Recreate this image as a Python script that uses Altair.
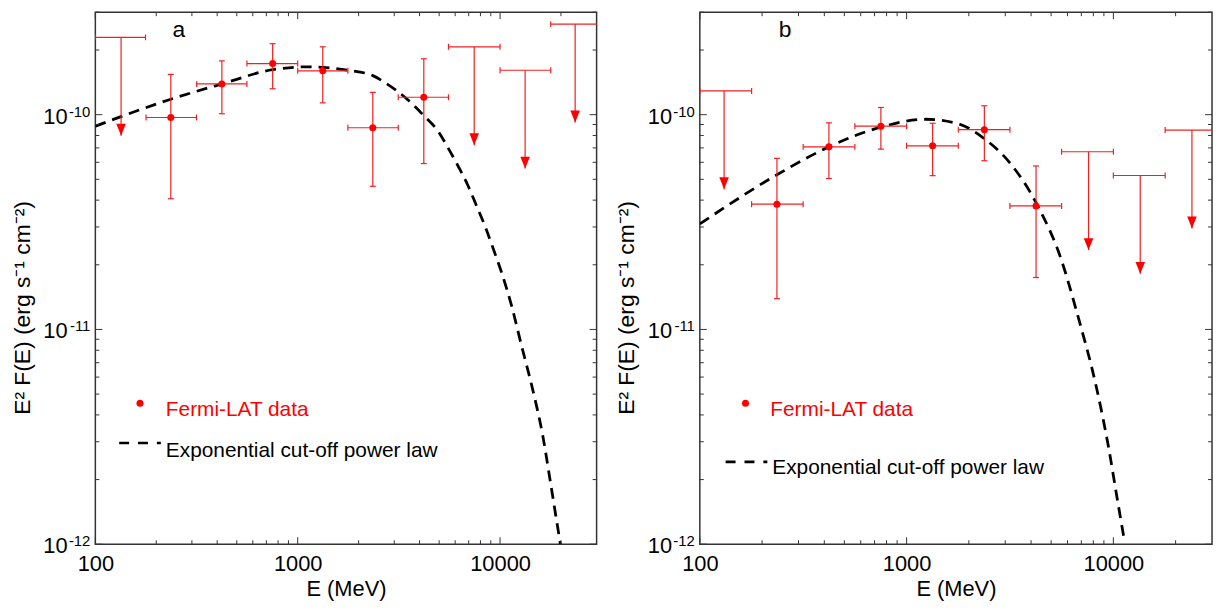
import altair as alt
import pandas as pd

# ---------------- data ----------------
# Panel a : detected points
a_E = [236, 422, 752, 1330, 2350, 4200]
a_F = [9.7e-11, 1.39e-10, 1.73e-10, 1.60e-10, 8.69e-11, 1.205e-10]
a_Elo = [178, 317, 561, 1000, 1770, 3140]
a_Ehi = [316, 561, 1000, 1770, 3140, 5560]
a_Flo = [4.06e-11, 1.01e-10, 1.32e-10, 1.135e-10, 4.64e-11, 5.92e-11]
a_Fhi = [1.54e-10, 1.78e-10, 2.14e-10, 2.07e-10, 1.27e-10, 1.82e-10]
# Panel a : upper limits
a_ulE = [134, 7450, 13300, 23500]
a_ulLo = [100, 5560, 10000, 17800]
a_ulHi = [177, 10000, 17800, 31600]
a_ulV = [2.29e-10, 2.07e-10, 1.61e-10, 2.64e-10]
# Panel a : exponential cut-off power law curve
a_cE = [100, 236, 422, 752, 1140, 1330, 1770, 2350, 2667, 3475, 4198, 4970,
        5560, 6222, 6966, 7654, 8409, 9247, 10140, 11350, 12710, 14520, 16260,
        17840, 19580, 19870]
a_cF = [8.84e-11, 1.18e-10, 1.39e-10, 1.62e-10, 1.67e-10, 1.66e-10, 1.61e-10,
        1.52e-10, 1.42e-10, 1.18e-10, 9.9e-11, 8.3e-11, 6.95e-11, 5.73e-11,
        4.64e-11, 3.76e-11, 3.04e-11, 2.38e-11, 1.86e-11, 1.31e-11, 8.55e-12,
        5.22e-12, 3.2e-12, 1.88e-12, 1.09e-12, 1.0e-12]

# Panel b : detected points
b_E = [236, 421, 751, 1336, 2377, 4227]
b_F = [3.83e-11, 7.08e-11, 8.84e-11, 7.16e-11, 8.51e-11, 3.76e-11]
b_Elo = [178, 316, 562, 1000, 1778, 3160]
b_Ehi = [316, 562, 1000, 1778, 3160, 5620]
b_Flo = [1.39e-11, 5.04e-11, 6.91e-11, 5.2e-11, 6.1e-11, 1.745e-11]
b_Fhi = [6.26e-11, 9.16e-11, 1.08e-10, 9.12e-11, 1.10e-10, 5.77e-11]
# Panel b : upper limits
b_ulE = [131, 7585, 13490, 23990]
b_ulLo = [100, 5620, 10000, 17800]
b_ulHi = [178, 10000, 17800, 31600]
b_ulV = [1.29e-10, 6.72e-11, 5.21e-11, 8.48e-11]
# Panel b : curve
b_cE = [100, 236, 421, 751, 1240, 1780, 2377, 3170, 4227, 5640, 6600, 7020,
        7820, 8710, 9490, 10350, 11290]
b_cF = [3.1e-11, 5.25e-11, 7.08e-11, 8.75e-11, 9.52e-11, 9.06e-11, 7.73e-11,
        5.94e-11, 3.89e-11, 2.07e-11, 1.24e-11, 1.0e-11, 6.79e-12, 4.29e-12,
        2.81e-12, 1.71e-12, 1.05e-12]

# axis tick values
x_major = [100, 1000, 10000]
x_minor = [200, 300, 400, 500, 600, 700, 800, 900,
           2000, 3000, 4000, 5000, 6000, 7000, 8000, 9000, 20000]
y_major = [1e-12, 1e-11, 1e-10]
y_minor = [2e-12, 3e-12, 4e-12, 5e-12, 6e-12, 7e-12, 8e-12, 9e-12,
           2e-11, 3e-11, 4e-11, 5e-11, 6e-11, 7e-11, 8e-11, 9e-11,
           2e-10, 3e-10]
y_sup = ["-12", "-11", "-10"]
y_title = "E² F(E) (erg s⁻¹ cm⁻²)"
x_title = "E (MeV)"

# ---------------- styling ----------------
RED = "#ff0000"
BAR = "#f02020"
FRAME = "#333333"
FONT = "Liberation Sans"
H = 536
XDOM = [100, 30000]
YDOM = [1e-12, 3e-10]
ARROW = 2.87  # arrow length factor (fixed pixel length on log axis)
VCAP = "M0,-1L0,1"
HCAP = "M-1,0L1,0"
TRI = "M-0.4,-1L0.4,-1L0,0Z"


def panel(E, F, Elo, Ehi, Flo, Fhi, ulE, ulLo, ulHi, ulV, cE, cF, W, label, leg):
    xs = alt.Scale(type="log", domain=XDOM, nice=False)
    ys = alt.Scale(type="log", domain=YDOM, nice=False)
    xax = alt.Axis(values=x_major, format="d", ticks=False, domain=False, grid=False,
                   labelFontSize=22, labelPadding=9, labelFlush=False, labelOverlap=False,
                   title=x_title, titleFontSize=22, titlePadding=5,
                   titleFontWeight="normal", labelColor="black", titleColor="black")
    yax = alt.Axis(labels=False, ticks=False, domain=False, grid=False, title=None)

    def X(f):
        return alt.X(f, type="quantitative", scale=xs, axis=xax)

    def Y(f):
        return alt.Y(f, type="quantitative", scale=ys, axis=yax)

    pts = pd.DataFrame(dict(E=E, F=F, lo=Elo, hi=Ehi, flo=Flo, fhi=Fhi))
    ul = pd.DataFrame(dict(E=ulE, lo=ulLo, hi=ulHi, v=ulV,
                           tip=[v / ARROW for v in ulV]))
    cur = pd.DataFrame(dict(E=cE, F=cF))

    layers = []
    layers.append(alt.Chart(cur).mark_line(color="black", strokeWidth=2.8,
                                           strokeDash=[11, 7], interpolate="monotone",
                                           clip=True).encode(x=X("E"), y=Y("F")))
    layers.append(alt.Chart(pts).mark_rule(color=BAR, strokeWidth=1.2)
                  .encode(x=X("lo"), x2="hi", y=Y("F")))
    layers.append(alt.Chart(pts).mark_rule(color=BAR, strokeWidth=1.2)
                  .encode(x=X("E"), y=Y("flo"), y2="fhi"))
    layers.append(alt.Chart(pts).transform_fold(["lo", "hi"], as_=["k", "xc"])
                  .mark_point(shape=VCAP, size=36, stroke=BAR, strokeWidth=1.2,
                              filled=False, opacity=1)
                  .encode(x=X("xc:Q"), y=Y("F")))
    layers.append(alt.Chart(pts).transform_fold(["flo", "fhi"], as_=["k", "yc"])
                  .mark_point(shape=HCAP, size=36, stroke=BAR, strokeWidth=1.2,
                              filled=False, opacity=1)
                  .encode(x=X("E"), y=Y("yc:Q")))
    layers.append(alt.Chart(pts).mark_point(filled=True, size=50, color=RED, opacity=1)
                  .encode(x=X("E"), y=Y("F")))
    layers.append(alt.Chart(ul).mark_rule(color=BAR, strokeWidth=1.2, clip=True)
                  .encode(x=X("lo"), x2="hi", y=Y("v")))
    layers.append(alt.Chart(ul).transform_fold(["lo", "hi"], as_=["k", "xc"])
                  .mark_point(shape=VCAP, size=36, stroke=BAR, strokeWidth=1.2,
                              filled=False, opacity=1, clip=True)
                  .encode(x=X("xc:Q"), y=Y("v")))
    layers.append(alt.Chart(ul).mark_rule(color=BAR, strokeWidth=1.2)
                  .encode(x=X("E"), y=Y("v"), y2="tip"))
    layers.append(alt.Chart(ul).mark_point(shape=TRI, size=576, filled=True, color=RED,
                                           opacity=1, strokeWidth=0)
                  .encode(x=X("E"), y=Y("tip")))

    # inward ticks on all four sides
    for vals, ln in ((x_major, 7), (x_minor, 4)):
        d = pd.DataFrame({"t": vals})
        layers.append(alt.Chart(d).mark_rule(color=FRAME, strokeWidth=1)
                      .encode(x=X("t"), y=alt.value(H), y2=alt.value(H - ln)))
        layers.append(alt.Chart(d).mark_rule(color=FRAME, strokeWidth=1)
                      .encode(x=X("t"), y=alt.value(0), y2=alt.value(ln)))
    for vals, ln in ((y_major, 7), (y_minor, 4)):
        d = pd.DataFrame({"t": vals})
        layers.append(alt.Chart(d).mark_rule(color=FRAME, strokeWidth=1)
                      .encode(y=Y("t"), x=alt.value(0), x2=alt.value(ln)))
        layers.append(alt.Chart(d).mark_rule(color=FRAME, strokeWidth=1)
                      .encode(y=Y("t"), x=alt.value(W), x2=alt.value(W - ln)))

    # y tick labels 10^n
    yl = pd.DataFrame({"v": y_major, "base": ["10"] * 3, "sup": y_sup})
    layers.append(alt.Chart(yl).mark_text(align="right", baseline="middle", fontSize=22,
                                          dy=2, color="black", font=FONT)
                  .encode(x=alt.value(-28), y=Y("v"), text="base"))
    layers.append(alt.Chart(yl).mark_text(align="right", baseline="middle", fontSize=15,
                                          dy=-3, color="black", font=FONT)
                  .encode(x=alt.value(-5), y=Y("v"), text="sup"))

    one = alt.Data(values=[{}])
    # y axis title (rotated text)
    layers.append(alt.Chart(one).mark_text(text=y_title, fontSize=23, color="black",
                                           angle=270, align="center", baseline="middle",
                                           font=FONT)
                  .encode(x=alt.value(-73), y=alt.value(leg["ytitle"])))
    layers.append(alt.Chart(one).mark_text(text=label, fontSize=23, color="black",
                                           align="center", baseline="middle", font=FONT)
                  .encode(x=alt.value(leg["lab"][0]), y=alt.value(leg["lab"][1])))
    layers.append(alt.Chart(one).mark_point(filled=True, size=50, color=RED, opacity=1)
                  .encode(x=alt.value(leg["dot"][0]), y=alt.value(leg["dot"][1])))
    layers.append(alt.Chart(one).mark_text(text="Fermi-LAT data", fontSize=21, color=RED,
                                           align="left", baseline="middle", font=FONT)
                  .encode(x=alt.value(leg["t1"][0]), y=alt.value(leg["t1"][1])))
    layers.append(alt.Chart(one).mark_rule(color="black", strokeWidth=2.7,
                                           strokeDash=[10, 9])
                  .encode(x=alt.value(leg["dash"][0]), x2=alt.value(leg["dash"][1]),
                          y=alt.value(leg["dash"][2])))
    layers.append(alt.Chart(one).mark_text(text="Exponential cut-off power law",
                                           fontSize=21, color="black", align="left",
                                           baseline="middle", font=FONT)
                  .encode(x=alt.value(leg["t2"][0]), y=alt.value(leg["t2"][1])))

    return alt.layer(*layers).properties(width=W, height=H)


leg_a = {"ytitle": 298, "lab": (84, 18), "dot": (45, 394), "t1": (71, 401),
         "dash": (24, 66, 434), "t2": (71, 442)}
leg_b = {"ytitle": 298, "lab": (86, 18), "dot": (46, 394), "t1": (71, 401),
         "dash": (26, 68, 453), "t2": (73, 459)}

pa = panel(a_E, a_F, a_Elo, a_Ehi, a_Flo, a_Fhi, a_ulE, a_ulLo, a_ulHi, a_ulV,
           a_cE, a_cF, 505, "a", leg_a)
pb = panel(b_E, b_F, b_Elo, b_Ehi, b_Flo, b_Fhi, b_ulE, b_ulLo, b_ulHi, b_ulV,
           b_cE, b_cF, 516, "b", leg_b)

chart = (alt.hconcat(pa, pb, spacing=17)
         .properties(padding={"left": 3, "top": 0, "right": 0, "bottom": 0},
                     background="white")
         .configure_view(stroke=FRAME, strokeWidth=1.5)
         .configure_axis(labelFont=FONT, titleFont=FONT)
         .configure_text(font=FONT))

chart.save("out.html", embed_options={"renderer": "svg", "actions": False})
